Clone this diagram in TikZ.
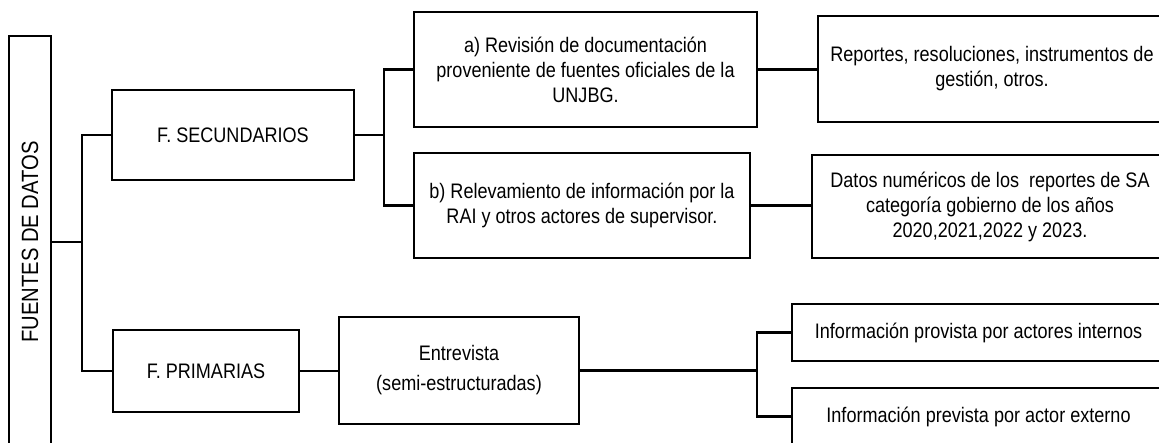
\documentclass[tikz,border=0pt]{standalone}
\usepackage{fontspec}
\setmainfont[FakeStretch=0.86]{Liberation Sans}
\begin{document}
\begin{tikzpicture}[x=1pt,y=-1pt,
  box/.style={draw, line width=2.6pt, inner sep=0pt, align=center,
    font=\fontsize{21}{25}\selectfont},
  conn/.style={line width=2.4pt}]
\useasboundingbox (0,0) rectangle (1159,443);
\fill[white] (0,0) rectangle (1159,443);
\clip (0,0) rectangle (1159,443);
% nodes
\node[box, rotate=90, minimum width=412pt, minimum height=42pt,
  font=\fontsize{23.5}{25}\selectfont] (fd) at (30,242) {FUENTES DE DATOS};
\node[box, minimum width=242pt, minimum height=90pt] (sec) at (233,135) {F. SECUNDARIOS};
\node[box, minimum width=186pt, minimum height=82pt] (prim) at (206,371) {F. PRIMARIAS};
\node[box, minimum width=343pt, minimum height=115pt] (a) at (585.5,69.5)
  {a) Revisión de documentación\\ proveniente de fuentes oficiales de la\\ UNJBG.};
\node[box, minimum width=336pt, minimum height=105pt] (b) at (582,205.5)
  {b) Relevamiento de información por la\\ RAI y otros actores de supervisor.};
\node[box, minimum width=348pt, minimum height=106pt] (rep) at (992,69)
  {Reportes, resoluciones, instrumentos de\\ gestión, otros.};
\node[box, minimum width=356pt, minimum height=103pt] (dat) at (990,206.5)
  {Datos numéricos de los\ \ reportes de SA\\ categoría gobierno de los años\\ 2020,2021,2022 y 2023.};
\node[box, minimum width=240pt, minimum height=107pt] (ent) at (459,370.5)
  {Entrevista\\[5pt] (semi-estructuradas)};
\node[box, minimum width=373pt, minimum height=57pt] (inf1) at (978.5,332.5)
  {Información provista por actores internos};
\node[box, minimum width=373pt, minimum height=57pt] (inf2) at (978.5,416.5)
  {Información prevista por actor externo};
% connectors
\coordinate (j1) at (82,242);
\coordinate (j2) at (384,135);
\coordinate (j3) at (757,370.5);
\draw[conn] (fd.south) -- (j1);
\draw[conn] (sec.west) -| (j1) |- (prim.west);
\draw[conn] (sec.east) -- (j2);
\draw[conn] (a.west) -| (j2) |- (b.west);
\draw[conn] (a.east) -- (a.east -| rep.west);
\draw[conn] (b.east) -- (b.east -| dat.west);
\draw[conn] (prim.east) -- (prim.east -| ent.west);
\draw[conn] (ent.east) -- (j3);
\draw[conn] (inf1.west) -| (j3) |- (inf2.west);
\end{tikzpicture}
\end{document}
